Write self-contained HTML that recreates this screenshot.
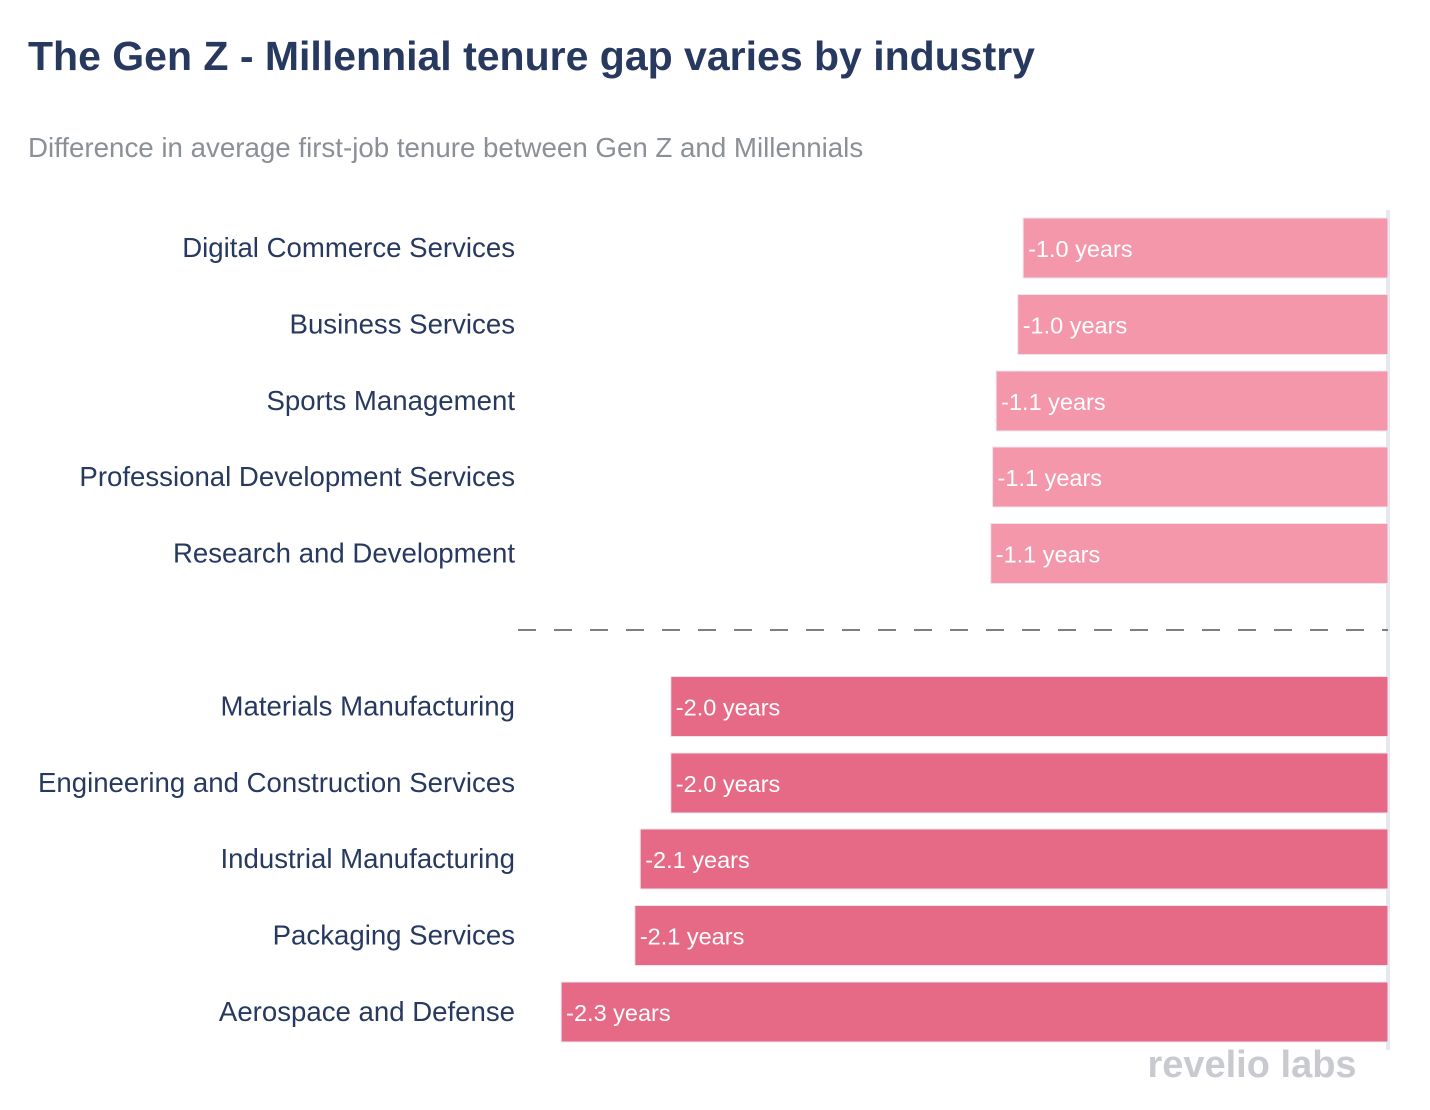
<!DOCTYPE html>
<html><head><meta charset="utf-8">
<style>
body{margin:0;background:#fff;width:1430px;height:1110px;overflow:hidden;font-family:"Liberation Sans",sans-serif;}
svg{display:block}
</style></head>
<body>
<svg id="chart" width="1430" height="1110">
<text x="28" y="70" font-size="41" font-weight="bold" fill="#27395f">The Gen Z - Millennial tenure gap varies by industry</text>
<text x="28" y="157" font-size="27.7" fill="#8a9096">Difference in average first-job tenure between Gen Z and Millennials</text>
<rect x="1386" y="210" width="4" height="840" fill="#e6e8f0"/>
<line x1="518" y1="630" x2="1388" y2="630" stroke="#555" stroke-width="1.5" stroke-dasharray="18,18"/>
<g id="bars"></g>
<text x="1252" y="1077" font-size="38" font-weight="bold" fill="#c8cacf" text-anchor="middle">revelio labs</text>
</svg>
<script>
const categories=["Digital Commerce Services","Business Services","Sports Management","Professional Development Services","Research and Development","Materials Manufacturing","Engineering and Construction Services","Industrial Manufacturing","Packaging Services","Aerospace and Defense"];
const values=[-1.015,-1.03,-1.09,-1.1,-1.105,-1.995,-1.995,-2.08,-2.095,-2.3];
const labels=["-1.0 years","-1.0 years","-1.1 years","-1.1 years","-1.1 years","-2.0 years","-2.0 years","-2.1 years","-2.1 years","-2.3 years"];
const rowTops=[218,294.5,371,447,523.5,676.5,753,829,905.5,982];
const zeroX=1388, pxPerYear=359.5;
function xScale(v){return zeroX+v*pxPerYear;}
const g=document.getElementById('bars');
const NS="http://www.w3.org/2000/svg";
categories.forEach((c,i)=>{
  const y=rowTops[i], h=60, x=xScale(values[i]);
  const r=document.createElementNS(NS,'rect');
  r.setAttribute('x',x);r.setAttribute('y',y);r.setAttribute('width',zeroX-x);r.setAttribute('height',h);
  r.setAttribute('fill',i<5?'#f497ab':'#e66a86');r.setAttribute('stroke','#ece6f0');r.setAttribute('stroke-width','1');
  
  
  g.appendChild(r);
  const t=document.createElementNS(NS,'text');
  t.setAttribute('x',x+5);t.setAttribute('y',y+39);t.setAttribute('font-size','23.5');t.setAttribute('fill','#fff');
  t.textContent=labels[i];
  
  
  g.appendChild(t);
  const l=document.createElementNS(NS,'text');
  l.setAttribute('x',515);l.setAttribute('y',y+39);l.setAttribute('font-size','27.6');l.setAttribute('fill','#27395f');l.setAttribute('text-anchor','end');
  l.textContent=c;
  
  
  g.appendChild(l);
});
</script>
</body></html>
